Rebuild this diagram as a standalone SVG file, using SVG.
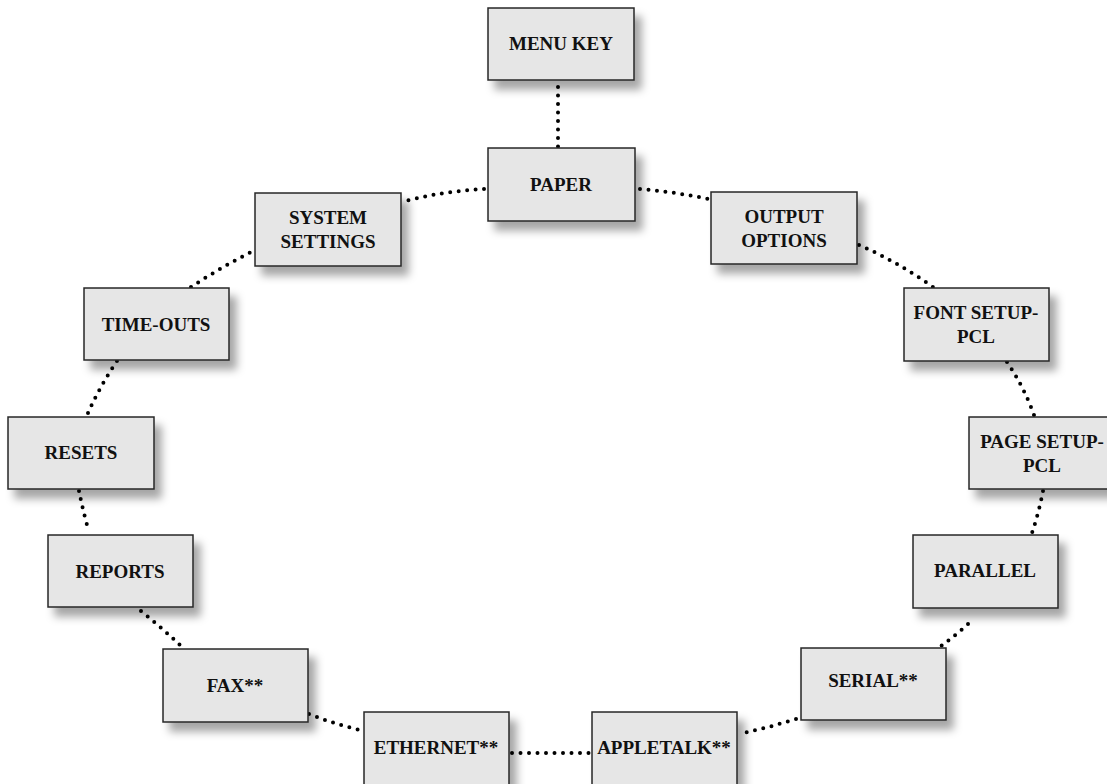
<svg xmlns="http://www.w3.org/2000/svg" width="1107" height="784" viewBox="0 0 1107 784">
<defs>
<filter id="sh" x="-20%" y="-20%" width="150%" height="160%">
<feDropShadow dx="7" dy="9" stdDeviation="4" flood-color="#000" flood-opacity="0.35"/>
</filter>
<style>
.box{fill:#e6e6e6;stroke:#262626;stroke-width:1.5;filter:url(#sh)}
.t{font-family:"Liberation Serif","Times New Roman",serif;font-weight:bold;font-size:19px;fill:#111;text-anchor:middle}
.c{fill:none;stroke:#000;stroke-width:4;stroke-linecap:round;stroke-dasharray:0 8.5}
</style>
</defs>
<rect width="1107" height="784" fill="#fff"/>
<g id="connectors">
<path class="c" d="M558 87 L558 147"/>
<path class="c" d="M484 189 Q445 191 405 201"/>
<path class="c" d="M640 189 Q675 192 709 199"/>
<path class="c" d="M859 245 Q898 262 933 287"/>
<path class="c" d="M1007 362 Q1024 387 1034 415"/>
<path class="c" d="M1043 491 Q1039 512 1032 533"/>
<path class="c" d="M968 624 Q955 636 941 646"/>
<path class="c" d="M796 719 Q767 728 739 734"/>
<path class="c" d="M512 753 L591 753"/>
<path class="c" d="M309 714 Q334 724 360 730"/>
<path class="c" d="M141 611 Q162 628 181 646"/>
<path class="c" d="M79 491 Q83 511 89 532"/>
<path class="c" d="M88 413 Q100 386 117 361"/>
<path class="c" d="M191 287 Q220 268 251 252"/>
</g>
<g id="menu-key"><rect class="box" x="488" y="8" width="146" height="72"/><text class="t" x="561" y="50">MENU KEY</text></g>
<g id="paper"><rect class="box" x="488" y="148" width="147" height="73"/><text class="t" x="561" y="191">PAPER</text></g>
<g id="system-settings"><rect class="box" x="255" y="193" width="146" height="73"/><text class="t" x="328" y="224">SYSTEM</text><text class="t" x="328" y="248">SETTINGS</text></g>
<g id="output-options"><rect class="box" x="711" y="192" width="146" height="72"/><text class="t" x="784" y="223">OUTPUT</text><text class="t" x="784" y="247">OPTIONS</text></g>
<g id="font-setup-pcl"><rect class="box" x="904" y="288" width="145" height="73"/><text class="t" x="976" y="319">FONT SETUP-</text><text class="t" x="976" y="343">PCL</text></g>
<g id="page-setup-pcl"><rect class="box" x="969" y="417" width="146" height="72"/><text class="t" x="1042" y="448">PAGE SETUP-</text><text class="t" x="1042" y="472">PCL</text></g>
<g id="parallel"><rect class="box" x="913" y="535" width="145" height="73"/><text class="t" x="985" y="577">PARALLEL</text></g>
<g id="serial"><rect class="box" x="801" y="648" width="145" height="72"/><text class="t" x="873" y="687">SERIAL**</text></g>
<g id="appletalk"><rect class="box" x="592" y="712" width="145" height="73"/><text class="t" x="664" y="754">APPLETALK**</text></g>
<g id="ethernet"><rect class="box" x="364" y="712" width="145" height="73"/><text class="t" x="436" y="754">ETHERNET**</text></g>
<g id="fax"><rect class="box" x="163" y="649" width="145" height="73"/><text class="t" x="235" y="692">FAX**</text></g>
<g id="reports"><rect class="box" x="48" y="535" width="145" height="72"/><text class="t" x="120" y="578">REPORTS</text></g>
<g id="resets"><rect class="box" x="8" y="417" width="146" height="72"/><text class="t" x="81" y="459">RESETS</text></g>
<g id="time-outs"><rect class="box" x="84" y="288" width="145" height="72"/><text class="t" x="156" y="331">TIME-OUTS</text></g>
</svg>
